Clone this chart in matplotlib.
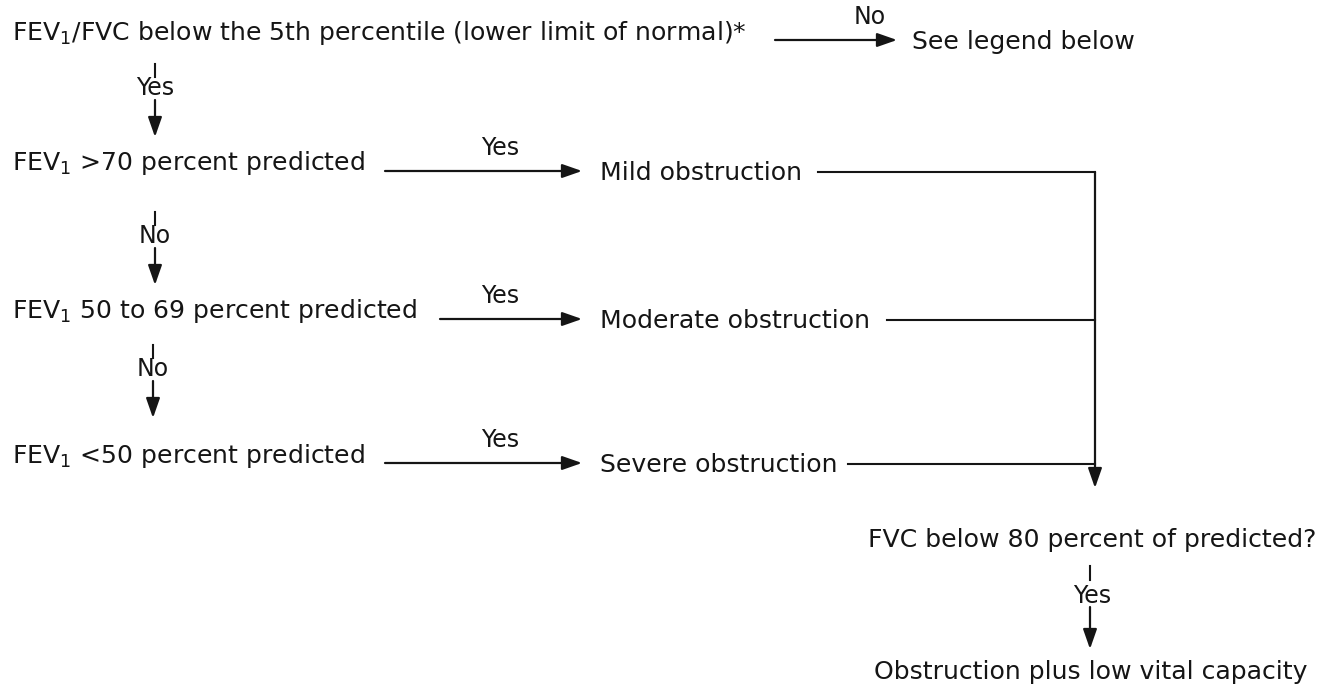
import matplotlib.pyplot as plt

# flowchart text
steps = [
    "FEV$_1$/FVC below the 5th percentile (lower limit of normal)*",
    "FEV$_1$ >70 percent predicted",
    "FEV$_1$ 50 to 69 percent predicted",
    "FEV$_1$ <50 percent predicted",
]
outcomes = ["See legend below", "Mild obstruction", "Moderate obstruction", "Severe obstruction"]
side_labels = ["No", "Yes", "Yes", "Yes"]
down_labels = ["Yes", "No", "No"]
final_question = "FVC below 80 percent of predicted?"
final_label = "Yes"
final_result = "Obstruction plus low vital capacity"

# layout in pixel units
row_y = [33, 163, 311, 456]
arrow_start = [775, 385, 440, 385]
arrow_end = [897, 582, 582, 582]
arrow_y = [40, 171, 319, 463]
label_x = [870, 500, 500, 500]
out_x = [912, 600, 600, 600]
line_start = [None, 818, 887, 848]
col_x = 1095

fig = plt.figure(figsize=(13.3, 6.87), dpi=100)
ax = fig.add_axes([0, 0, 1, 1])
ax.set_xlim(0, 1330)
ax.set_ylim(687, 0)
ax.axis('off')

fs = 18.1
lfs = 17
col = '#151515'
arrow_kw = dict(arrowstyle='-|>,head_length=1.2,head_width=0.42', color=col, lw=1.6,
                shrinkA=0, shrinkB=0)

for i in range(4):
    ax.text(12, row_y[i], steps[i], fontsize=fs, color=col, va='center', ha='left')
    ax.annotate('', xy=(arrow_end[i], arrow_y[i]), xytext=(arrow_start[i], arrow_y[i]),
                arrowprops=arrow_kw)
    ax.text(label_x[i], arrow_y[i] - 23, side_labels[i], fontsize=lfs, color=col,
            ha='center', va='center')
    ax.text(out_x[i], arrow_y[i] + 2, outcomes[i], fontsize=fs, color=col, va='center', ha='left')
    if line_start[i] is not None:
        ax.plot([line_start[i], col_x], [arrow_y[i] + 1, arrow_y[i] + 1], color=col, lw=1.5)

# downward connectors between the left steps
down_x = [155, 155, 153]
tick_top = [64, 212, 345]
for j in range(3):
    x = down_x[j]
    t = tick_top[j]
    ax.plot([x, x], [t, t + 13], color=col, lw=1.5)
    ax.text(x, t + 24, down_labels[j], fontsize=lfs, color=col, ha='center', va='center')
    ax.annotate('', xy=(x, t + 73), xytext=(x, t + 36), arrowprops=arrow_kw)

# right column merging into the final question
ax.annotate('', xy=(col_x, 488), xytext=(col_x, arrow_y[1] + 1), arrowprops=arrow_kw)
ax.text(1092, 540, final_question, fontsize=fs, color=col, ha='center', va='center')
ax.plot([1090, 1090], [566, 580], color=col, lw=1.5)
ax.text(1092, 596, final_label, fontsize=lfs, color=col, ha='center', va='center')
ax.annotate('', xy=(1090, 649), xytext=(1090, 607), arrowprops=arrow_kw)
ax.text(1091, 672, final_result, fontsize=fs, color=col, ha='center', va='center')

fig.savefig('out.png', dpi=100, facecolor='white')
